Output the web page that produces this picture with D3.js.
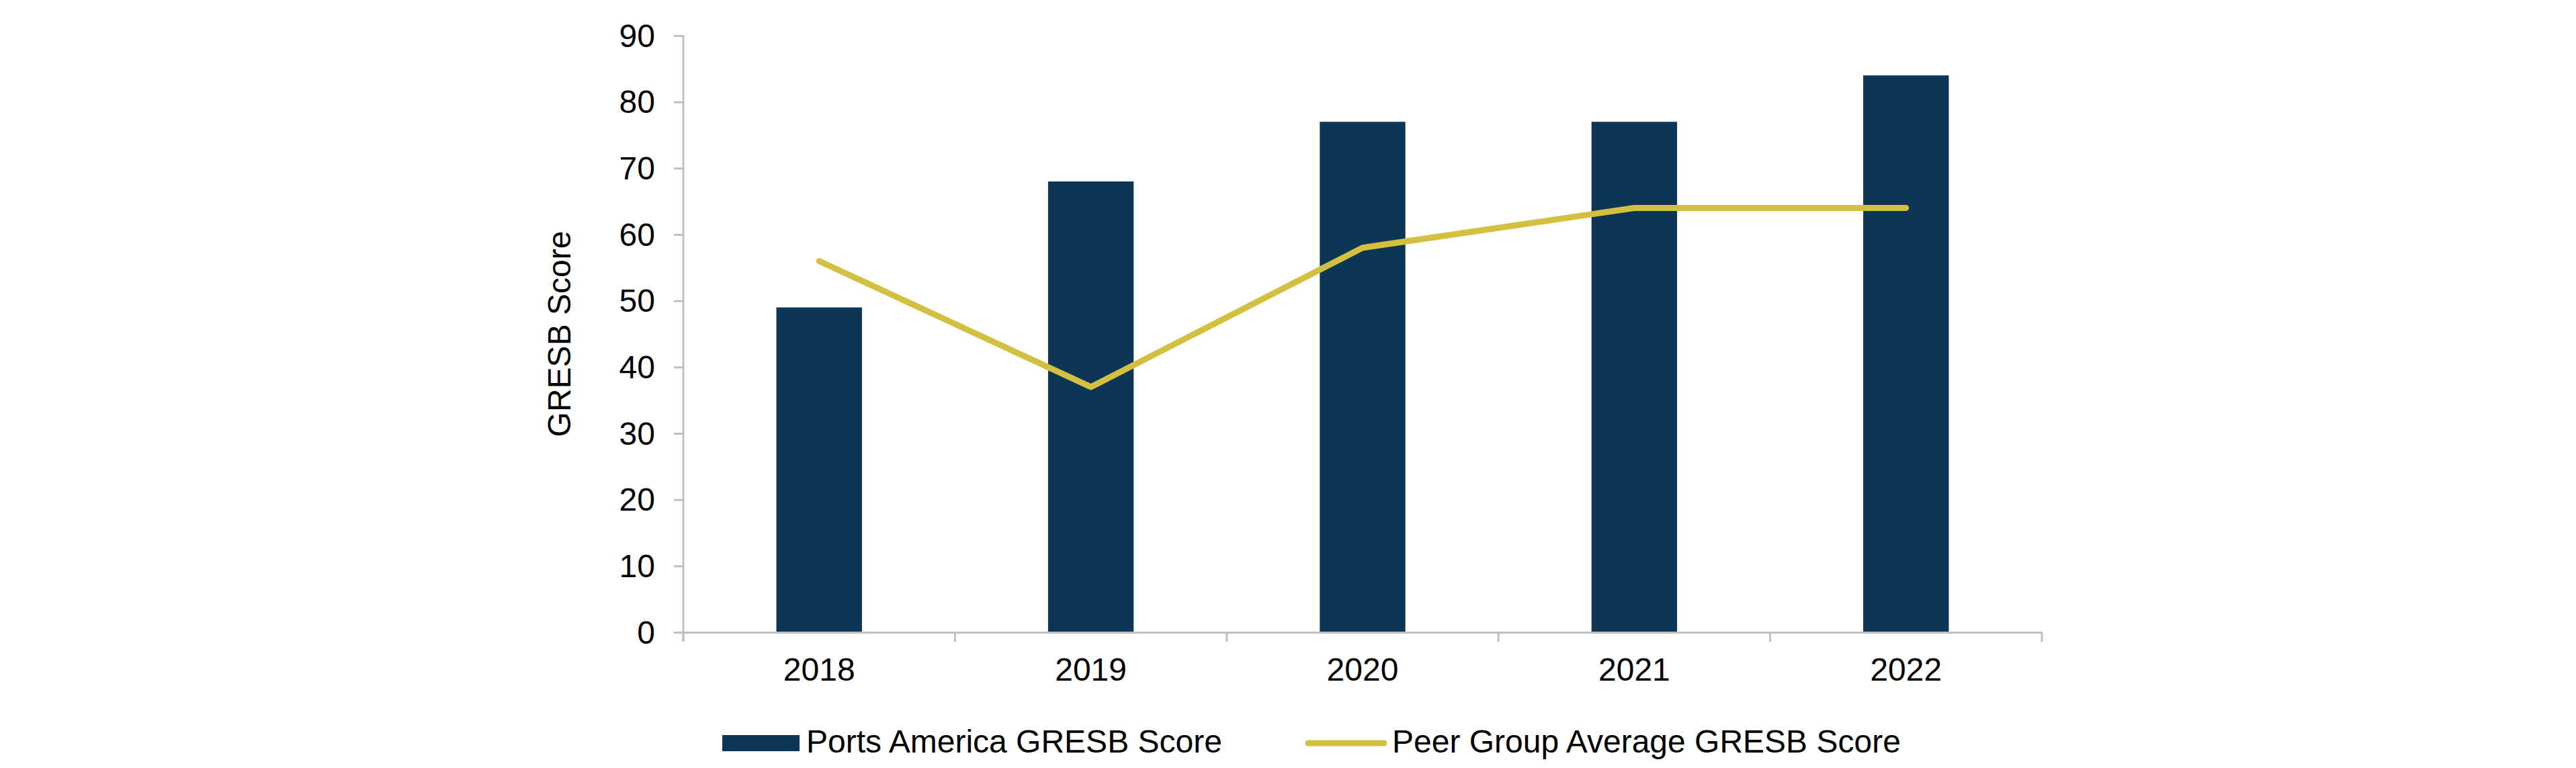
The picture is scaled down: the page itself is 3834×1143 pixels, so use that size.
<!DOCTYPE html>
<html>
<head>
<meta charset="utf-8">
<script src="https://cdn.jsdelivr.net/npm/d3@7"></script>
<style>
  body { margin: 0; background: #fff; }
  text { font-family: "Liberation Sans", Arial, sans-serif; fill: #000; }
</style>
</head>
<body>
<div id="chart"></div>
<script>
// data
const years = ["2018", "2019", "2020", "2021", "2022"];
const portsScore = [49, 68, 77, 77, 84];
const peerScore = [56, 37, 58, 64, 64];
const yTicks = [0, 10, 20, 30, 40, 50, 60, 70, 80, 90];
const seriesNames = ["Ports America GRESB Score", "Peer Group Average GRESB Score"];

const data = years.map((d, i) => ({year: d, ports: portsScore[i], peer: peerScore[i]}));

const barColor = "#0c3556";
const lineColor = "#d3bf40";
const axisColor = "#bfbfbf";

const svg = d3.select("#chart").append("svg")
    .attr("width", 3834)
    .attr("height", 1143);

// Set the margins
const margin = {top: 53, right: 795, bottom: 202, left: 1017},
    width = +svg.attr("width") - margin.left - margin.right,
    height = +svg.attr("height") - margin.top - margin.bottom;

const x = d3.scaleBand().domain(years).range([0, width]).padding(0);
const y = d3.scaleLinear().domain([0, 90]).range([height, 0]);

const g = svg.append("g")
    .attr("transform", "translate(" + margin.left + "," + margin.top + ")");

// bars
const barW = x.bandwidth() * 0.315;
g.selectAll(".bar")
    .data(data)
    .enter().append("rect")
    .attr("class", "bar")
    .attr("x", d => x(d.year) + (x.bandwidth() - barW) / 2)
    .attr("y", d => y(d.ports))
    .attr("width", barW)
    .attr("height", d => y(0) - y(d.ports))
    .style("fill", barColor);

// y axis
const yAxis = g.append("g")
    .attr("class", "axis axis--y")
    .call(d3.axisLeft(y).tickValues(yTicks).tickSize(14).tickPadding(28).tickSizeOuter(0));
yAxis.select(".domain").attr("stroke", axisColor).attr("stroke-width", 3)
    .attr("d", "M0,0V" + (height + 14));
yAxis.selectAll(".tick line").attr("stroke", axisColor).attr("stroke-width", 3);
yAxis.selectAll("text").style("font-size", "48px").attr("dy", "0.34em");

// x axis: labels at band centers, tick marks at band edges
const xAxis = g.append("g")
    .attr("class", "axis axis--x")
    .attr("transform", "translate(0," + height + ")")
    .call(d3.axisBottom(x).tickSize(0).tickPadding(38).tickSizeOuter(0));
xAxis.select(".domain").attr("stroke", axisColor).attr("stroke-width", 3);
xAxis.selectAll("text").style("font-size", "48px");

const edges = years.map(d => x(d)).concat([width]);
xAxis.selectAll(".edge")
    .data(edges)
    .enter().append("line")
    .attr("class", "edge")
    .attr("x1", d => d).attr("x2", d => d)
    .attr("y1", 0).attr("y2", 14)
    .attr("stroke", axisColor)
    .attr("stroke-width", 3);

// peer line
const line = d3.line()
    .x(d => x(d.year) + x.bandwidth() / 2)
    .y(d => y(d.peer));

g.append("path")
    .datum(data)
    .attr("fill", "none")
    .attr("stroke", lineColor)
    .attr("stroke-width", 9)
    .attr("stroke-linecap", "round")
    .attr("stroke-linejoin", "round")
    .attr("d", line);

// y axis title
g.append("text")
    .attr("transform", "rotate(-90)")
    .attr("x", -height / 2)
    .attr("y", 849 - margin.left)
    .attr("text-anchor", "middle")
    .style("font-size", "48px")
    .text("GRESB Score");

// legend
const legend = svg.append("g").attr("class", "legend");
legend.append("rect")
    .attr("x", 1075).attr("y", 1094)
    .attr("width", 115).attr("height", 24)
    .style("fill", barColor);
legend.append("text")
    .attr("x", 1200).attr("y", 1120)
    .style("font-size", "48px")
    .text(seriesNames[0]);
legend.append("line")
    .attr("x1", 1947).attr("x2", 2060)
    .attr("y1", 1106).attr("y2", 1106)
    .attr("stroke", lineColor)
    .attr("stroke-width", 9)
    .attr("stroke-linecap", "round");
legend.append("text")
    .attr("x", 2072).attr("y", 1120)
    .style("font-size", "48px")
    .text(seriesNames[1]);
</script>
</body>
</html>
